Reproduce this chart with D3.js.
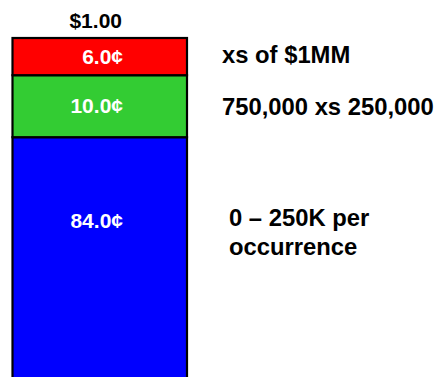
<!DOCTYPE html>
<html>
<head>
<meta charset="utf-8">
<script src="https://cdn.jsdelivr.net/npm/d3@7"></script>
<style>
  html, body { margin: 0; padding: 0; background: #fff; overflow: hidden; }
  svg { display: block; font-family: "Liberation Sans", Arial, sans-serif; font-weight: bold; }
</style>
</head>
<body>
<svg id="chart" width="440" height="377"></svg>
<script>
// Layers of the loss dollar, bottom to top (cents per $1.00)
const layers = ["0 – 250K per occurrence", "750,000 xs 250,000", "xs of $1MM"];
const cents = [84.0, 10.0, 6.0];
const colors = ["#0000FF", "#33CC33", "#FF0000"];
const layerLines = [["0 – 250K per", "occurrence"], ["750,000 xs 250,000"], ["xs of $1MM"]];
const totalLabel = "$1.00";

const svg = d3.select("#chart");

// Scale: one dollar spans 620px, so the bottom of the bar runs past the frame
const y = d3.scaleLinear().domain([0, 100]).range([658, 38]);
const x = d3.scaleBand().domain(["total"]).range([12.5, 187]).padding(0);

// Stack the layers
let acc = 0;
const segs = cents.map((v, i) => {
  const s = { name: layers[i], value: v, y0: acc, y1: acc + v, color: colors[i], lines: layerLines[i] };
  acc += v;
  return s;
});

const g = svg.append("g");

g.selectAll("rect.seg")
  .data(segs)
  .join("rect")
  .attr("class", "seg")
  .attr("x", x("total"))
  .attr("width", x.bandwidth())
  .attr("y", d => y(d.y1))
  .attr("height", d => y(d.y0) - y(d.y1))
  .attr("fill", d => d.color)
  .attr("stroke", "#000")
  .attr("stroke-width", 2.2);

// Value labels inside the bar, centred on the visible part of each segment
const visibleBottom = 305;
const labelRight = 123;
g.selectAll("text.val")
  .data(segs)
  .join("text")
  .attr("class", "val")
  .attr("x", labelRight)
  .attr("y", d => (y(d.y1) + Math.min(y(d.y0), visibleBottom)) / 2 + 7)
  .attr("text-anchor", "end")
  .attr("fill", "#fff")
  .attr("font-size", 21)
  .text(d => d.value.toFixed(1) + "¢");

// Total above the bar
g.append("text")
  .attr("x", labelRight - 1)
  .attr("y", y(acc) - 10)
  .attr("text-anchor", "end")
  .attr("fill", "#000")
  .attr("font-size", 21)
  .text(totalLabel);

// Layer descriptions to the right of the bar
const descX = [229, 222, 222];
const descY = [226, 115, 63];
g.selectAll("text.desc")
  .data(segs)
  .join("text")
  .attr("class", "desc")
  .attr("x", (d, i) => descX[i])
  .attr("y", (d, i) => descY[i])
  .attr("fill", "#000")
  .attr("font-size", 23.8)
  .each(function(d, i) {
    d3.select(this).selectAll("tspan")
      .data(d.lines)
      .join("tspan")
      .attr("x", descX[i])
      .attr("dy", (t, j) => j === 0 ? 0 : 29)
      .text(t => t);
  });
</script>
</body>
</html>
